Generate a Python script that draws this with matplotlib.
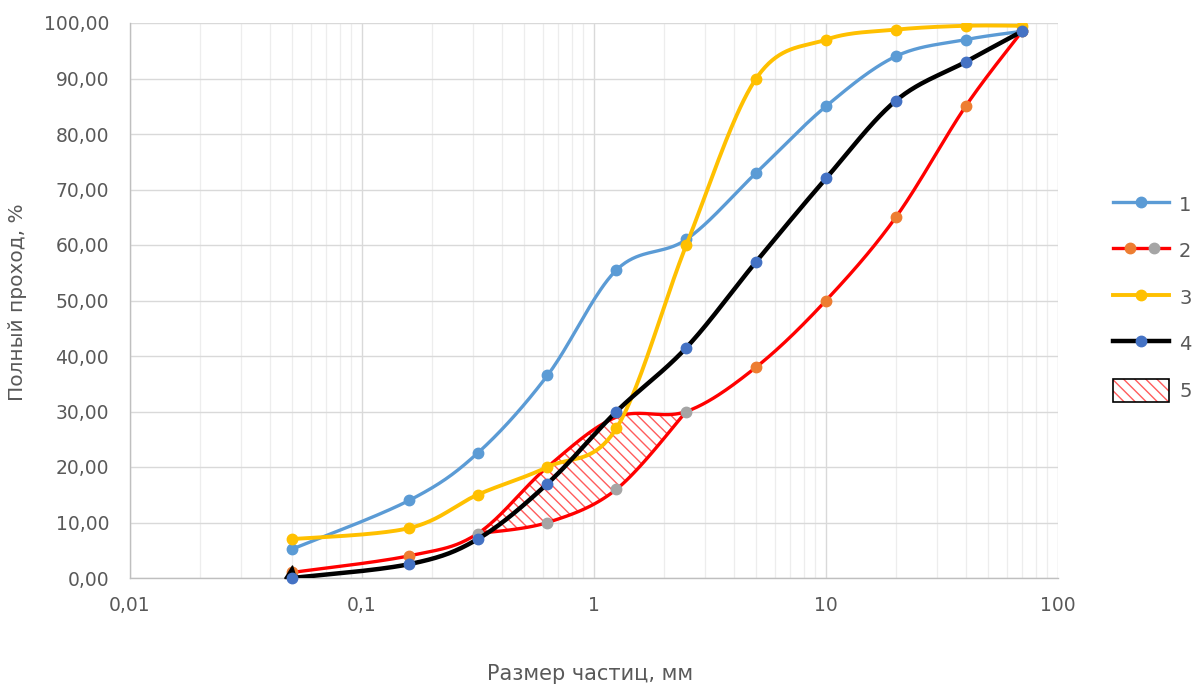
import numpy as np
import matplotlib
matplotlib.use("Agg")
import matplotlib.pyplot as plt
from matplotlib.lines import Line2D
from matplotlib.patches import Patch
from matplotlib.legend_handler import HandlerBase, HandlerTuple
from matplotlib.ticker import FixedLocator, LogLocator, NullFormatter

plt.rcParams['font.family'] = ['DejaVu Sans']
plt.rcParams['hatch.linewidth'] = 1.0

# Sieve sizes, mm
sizes = [0.05, 0.16, 0.315, 0.63, 1.25, 2.5, 5, 10, 20, 40, 70]

# Total passing, %
curve1 = [5.2, 14.0, 22.5, 36.5, 55.5, 61.0, 73.0, 85.0, 94.0, 97.0, 98.5]
curve2_upper = [1.0, 4.0, 8.0, 20.0, 29.0, 30.0, 38.0, 50.0, 65.0, 85.0, 98.5]
lower_sizes = [0.315, 0.63, 1.25, 2.5]
curve2_lower = [8.0, 10.0, 16.0, 30.0]
curve3 = [7.0, 9.0, 15.0, 20.0, 27.0, 60.0, 90.0, 97.0, 98.8, 99.5, 99.5]
curve4 = [0.0, 2.5, 7.0, 17.0, 30.0, 41.5, 57.0, 72.0, 86.0, 93.0, 98.5]

y_ticks = [0, 10, 20, 30, 40, 50, 60, 70, 80, 90, 100]
x_ticks = [0.01, 0.1, 1, 10, 100]
x_tick_labels = ["0,01", "0,1", "1", "10", "100"]
legend_labels = ["1", "2", "3", "4", "5"]

BLUE = "#5B9BD5"
RED = "#FF0000"
ORANGE = "#ED7D31"
GREY = "#A5A5A5"
YELLOW = "#FFC000"
DARKBLUE = "#4472C4"
HATCH = "#FF5C5C"
TEXT = "#595959"

fig = plt.figure(figsize=(11.95, 6.84), dpi=100)
ax = fig.add_axes([130 / 1195, 1 - 578 / 684, (1058 - 130) / 1195, (578 - 23) / 684])
ax.set_xscale("log")
ax.set_xlim(0.01, 100)
ax.set_ylim(0, 100)


def smooth_segments(xs, ys, n=40):
    """Bezier smoothing (Catmull-Rom style) computed in display space."""
    pts = ax.transData.transform(np.column_stack([xs, ys]))
    segs = []
    t = np.linspace(0, 1, n)[:, None]
    for i in range(len(pts) - 1):
        p0 = pts[i - 1] if i > 0 else pts[i]
        p1 = pts[i]
        p2 = pts[i + 1]
        p3 = pts[i + 2] if i + 2 < len(pts) else pts[i + 1]
        c1 = p1 + (p2 - p0) / 6.0
        c2 = p2 - (p3 - p1) / 6.0
        seg = (1 - t) ** 3 * p1 + 3 * (1 - t) ** 2 * t * c1 + 3 * (1 - t) * t ** 2 * c2 + t ** 3 * p2
        segs.append(ax.transData.inverted().transform(seg))
    return segs


def smooth(xs, ys, i0=None, i1=None):
    segs = smooth_segments(xs, ys)
    segs = segs[i0:i1]
    return np.vstack(segs)


# grid
ax.xaxis.set_minor_locator(LogLocator(base=10, subs=np.arange(2, 10)))
ax.xaxis.set_minor_formatter(NullFormatter())
ax.grid(True, which="major", axis="both", color="#D9D9D9", lw=1.0, zorder=0)
ax.grid(True, which="minor", axis="x", color="#EDEDED", lw=0.9, zorder=0)
ax.set_axisbelow(True)
for s in ["top", "right"]:
    ax.spines[s].set_visible(False)
for s in ["left", "bottom"]:
    ax.spines[s].set_color("#BFBFBF")
    ax.spines[s].set_linewidth(1.0)

# hatched band between the two branches of curve 2
up = smooth(sizes, curve2_upper, 2, 5)
lo = smooth(lower_sizes, curve2_lower)
poly = np.vstack([up, lo[::-1]])
ax.fill(poly[:, 0], poly[:, 1], facecolor="white", edgecolor=HATCH,
        hatch="\\\\\\", linewidth=0, zorder=1)

LW = 2.4
MS = 7.5

# curve 1
c = smooth(sizes, curve1)
ax.plot(c[:, 0], c[:, 1], color=BLUE, lw=LW, zorder=3, solid_capstyle="round")
ax.plot(sizes, curve1, "o", color=BLUE, ms=MS, zorder=3)

# curve 2 (upper and lower branches)
c = smooth(sizes, curve2_upper)
ax.plot(c[:, 0], c[:, 1], color=RED, lw=LW, zorder=4)
c = smooth(lower_sizes, curve2_lower)
ax.plot(c[:, 0], c[:, 1], color=RED, lw=LW, zorder=4)
orange_idx = [0, 1, 6, 7, 8, 9, 10]
ax.plot([sizes[i] for i in orange_idx], [curve2_upper[i] for i in orange_idx], "o",
        color=ORANGE, ms=MS, zorder=4)
ax.plot(lower_sizes, curve2_lower, "o", color=GREY, ms=MS, zorder=4)

# curve 3
c = smooth(sizes, curve3)
ax.plot(c[:, 0], c[:, 1], color=YELLOW, lw=LW + 0.4, zorder=5)
ax.plot(sizes, curve3, "o", color=YELLOW, ms=MS, zorder=5)

# curve 4 (start cap drawn as a small triangle sitting on the axis)
c = smooth(sizes, curve4)
ax.plot(c[:, 0], c[:, 1], color="black", lw=LW + 0.8, zorder=6)
start_cap = [(-1.0, 0.0), (0.5, 0.0), (0.0, 1.6), (-1.0, 0.0)]
ax.plot(sizes[0], curve4[0], marker=start_cap, color="black", ms=18, zorder=6,
        clip_on=False, ls="none")
ax.plot(sizes, curve4, "o", color=DARKBLUE, ms=MS, zorder=6, clip_on=False)

# axes text
ax.set_yticks(y_ticks)
ax.set_yticklabels([f"{v:.2f}".replace(".", ",") for v in y_ticks])
ax.xaxis.set_major_locator(FixedLocator(x_ticks))
ax.set_xticklabels(x_tick_labels)
ax.tick_params(axis="both", which="both", length=0, colors=TEXT, labelsize=13.5)
ax.tick_params(axis="y", pad=15)
ax.tick_params(axis="x", pad=13)
fig.text(590 / 1195, 1 - 674 / 684, "Размер частиц, мм", ha="center", va="center",
         color=TEXT, fontsize=15)
fig.text(18 / 1195, 1 - 302 / 684, "Полный проход, %", ha="center", va="center",
         rotation=90, color=TEXT, fontsize=14.5)


class HandlerTwoMarkers(HandlerBase):
    def create_artists(self, legend, orig_handle, xdescent, ydescent, width, height,
                       fontsize, trans):
        y = (height - ydescent) / 2.0
        x0 = -xdescent
        line = Line2D([x0, x0 + width], [y, y], color=RED, lw=LW)
        m1 = Line2D([x0 + 0.3 * width], [y], marker="o", color=ORANGE, ms=MS, ls="none")
        m2 = Line2D([x0 + 0.72 * width], [y], marker="o", color=GREY, ms=MS, ls="none")
        for a in (line, m1, m2):
            a.set_transform(trans)
        return [line, m1, m2]


h1 = Line2D([], [], color=BLUE, lw=LW, marker="o", ms=MS)
h2 = object()
h3 = Line2D([], [], color=YELLOW, lw=LW + 0.4, marker="o", ms=MS)
h4 = Line2D([], [], color="black", lw=LW + 0.8, marker="o", ms=MS,
            markerfacecolor=DARKBLUE, markeredgecolor=DARKBLUE)
h5 = (Patch(facecolor="white", edgecolor=HATCH, hatch="\\\\\\", lw=0),
      Patch(facecolor="none", edgecolor="black", lw=1.2))

leg = fig.legend([h1, h2, h3, h4, h5], legend_labels,
                 handler_map={h2: HandlerTwoMarkers(), tuple: HandlerTuple(ndivide=1)},
                 loc="upper left", bbox_to_anchor=(1113 / 1195, 1 - 193 / 684),
                 frameon=False, fontsize=14, handlelength=2.9, handleheight=1.45,
                 labelspacing=1.2, handletextpad=0.5, borderpad=0, borderaxespad=0,
                 numpoints=1)
for t in leg.get_texts():
    t.set_color(TEXT)

fig.savefig("out.png", dpi=100, facecolor="white")
